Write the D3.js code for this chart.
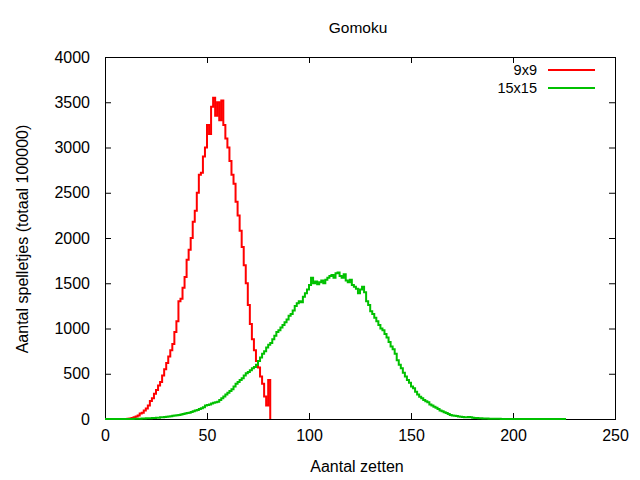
<!DOCTYPE html>
<html>
<head>
<meta charset="utf-8">
<script src="https://cdn.jsdelivr.net/npm/d3@7"></script>
<style>
  body { margin: 0; background: #fff; }
  svg text { font-family: "Liberation Sans", Arial, sans-serif; fill: #000; }
</style>
</head>
<body>
<div class="chart"></div>
<script>
// 9x9 board: number of games per game length, starting at 10 moves
const start9 = 10;
const games9 = [
  0, 2, 5, 10, 18, 28, 40, 60, 70, 95,
  115, 150, 200, 230, 280, 320, 370, 410, 480, 550,
  620, 690, 760, 830, 960, 1080, 1300, 1330, 1450, 1570,
  1760, 1870, 2000, 2180, 2300, 2500, 2700, 2720, 2900, 3000,
  3250, 3150, 3450, 3550, 3350, 3500, 3300, 3520, 3250, 3100,
  3000, 2850, 2700, 2600, 2400, 2250, 2080, 1900, 1700, 1500,
  1260, 1050, 880, 760, 640, 570, 470, 390, 250, 150,
  430, 0
];

// 15x15 board, starting at 0 moves
const start15 = 0;
const games15 = [
  0, 0, 0, 0, 0, 0, 0, 0, 0, 0,
  0, 0, 1, 1, 2, 2, 3, 4, 5, 6,
  7, 8, 9, 10, 12, 14, 15, 18, 20, 22,
  25, 28, 30, 35, 38, 42, 45, 50, 55, 60,
  65, 70, 78, 85, 95, 100, 110, 120, 130, 150,
  155, 160, 170, 180, 185, 190, 210, 230, 250, 270,
  290, 310, 330, 360, 390, 410, 430, 450, 480, 505,
  520, 540, 560, 575, 600, 640, 680, 720, 750, 790,
  820, 840, 880, 920, 960, 980, 1010, 1040, 1070, 1100,
  1140, 1160, 1200, 1250, 1280, 1300, 1290, 1350, 1390, 1430,
  1480, 1560, 1500, 1520, 1490, 1510, 1530, 1500, 1540, 1560,
  1580, 1590, 1560, 1610, 1620, 1580, 1560, 1600, 1530, 1510,
  1540, 1480, 1460, 1440, 1390, 1430, 1460, 1400, 1300, 1260,
  1190, 1160, 1120, 1080, 1040, 1000, 980, 940, 900, 850,
  800, 770, 720, 650, 600, 560, 510, 470, 430, 400,
  360, 340, 300, 270, 245, 230, 210, 195, 185, 160,
  150, 135, 125, 110, 95, 85, 75, 65, 55, 45,
  40, 35, 32, 28, 25, 22, 20, 18, 22, 18,
  15, 12, 10, 8, 8, 6, 5, 5, 4, 3,
  3, 2, 2, 2, 1, 1, 1, 1, 0, 1,
  0, 0, 1, 0, 0, 0, 0, 0, 0, 0,
  0, 0, 0, 0, 0, 0, 0, 0, 0, 0,
  0, 0, 0, 0, 0, 0, 0
];

const seriesNames = ["9x9", "15x15"];
const seriesColors = ["#ff0000", "#00c000"];
const xTicks = [0, 50, 100, 150, 200, 250];
const yTicks = [0, 500, 1000, 1500, 2000, 2500, 3000, 3500, 4000];

const w = 640, h = 480;
const plotLeft = 105, plotRight = 615, plotTop = 57, plotBottom = 419;

const svg = d3.select(".chart").append("svg")
  .attr("width", w).attr("height", h);

const xScale = d3.scaleLinear().domain([0, 250]).range([plotLeft, plotRight]);
const yScale = d3.scaleLinear().domain([0, 4000]).range([plotBottom, plotTop]);

/* axes with inward ticks, mirrored on top and right */
const tickLen = 6;
const styleText = g => g.selectAll("text")
  .attr("font-size", 16)
  .attr("font-family", "Liberation Sans, Arial, sans-serif")
  .attr("fill", "#000");

svg.append("g")
  .attr("transform", "translate(0," + plotBottom + ")")
  .call(d3.axisBottom(xScale).tickValues(xTicks).tickFormat(d3.format("d"))
    .tickSizeInner(-tickLen).tickSizeOuter(0).tickPadding(11))
  .call(g => g.select(".domain").remove())
  .call(styleText);
svg.append("g")
  .attr("transform", "translate(0," + plotTop + ")")
  .call(d3.axisTop(xScale).tickValues(xTicks).tickSizeInner(-tickLen).tickSizeOuter(0).tickFormat(""))
  .call(g => g.select(".domain").remove());
svg.append("g")
  .attr("transform", "translate(" + plotLeft + ",0)")
  .call(d3.axisLeft(yScale).tickValues(yTicks).tickFormat(d3.format("d"))
    .tickSizeInner(-tickLen).tickSizeOuter(0).tickPadding(15))
  .call(g => g.select(".domain").remove())
  .call(styleText);
svg.append("g")
  .attr("transform", "translate(" + plotRight + ",0)")
  .call(d3.axisRight(yScale).tickValues(yTicks).tickSizeInner(-tickLen).tickSizeOuter(0).tickFormat(""))
  .call(g => g.select(".domain").remove());

svg.append("rect")
  .attr("x", plotLeft + 0.5).attr("y", plotTop + 0.5)
  .attr("width", plotRight - plotLeft).attr("height", plotBottom - plotTop)
  .attr("fill", "none").attr("stroke", "#000").attr("stroke-width", 1);

/* step lines */
const line = d3.line()
  .x(d => xScale(d[0]))
  .y(d => yScale(d[1]))
  .curve(d3.curveStepAfter);

const series = [
  games9.map((v, i) => [start9 + i, v]),
  games15.map((v, i) => [start15 + i, v])
];

series.forEach((s, i) => {
  svg.append("path")
    .datum(s)
    .attr("d", line)
    .attr("fill", "none")
    .attr("stroke", seriesColors[i])
    .attr("stroke-width", 2);
});

/* legend */
seriesNames.forEach((name, i) => {
  const ly = 70 + i * 18;
  svg.append("text")
    .attr("x", 537).attr("y", ly)
    .attr("dy", "0.35em")
    .attr("text-anchor", "end")
    .attr("font-size", 14.5)
    .text(name);
  svg.append("line")
    .attr("x1", 548).attr("x2", 595)
    .attr("y1", ly).attr("y2", ly)
    .attr("stroke", seriesColors[i])
    .attr("stroke-width", 2);
});

/* titles */
svg.append("text")
  .attr("x", 358).attr("y", 33)
  .attr("text-anchor", "middle")
  .attr("font-size", 15.5)
  .text("Gomoku");
svg.append("text")
  .attr("x", 357).attr("y", 472)
  .attr("text-anchor", "middle")
  .attr("font-size", 16)
  .text("Aantal zetten");
svg.append("text")
  .attr("transform", "translate(28,239) rotate(-90)")
  .attr("text-anchor", "middle")
  .attr("font-size", 16)
  .text("Aantal spelletjes (totaal 100000)");
</script>
</body>
</html>
